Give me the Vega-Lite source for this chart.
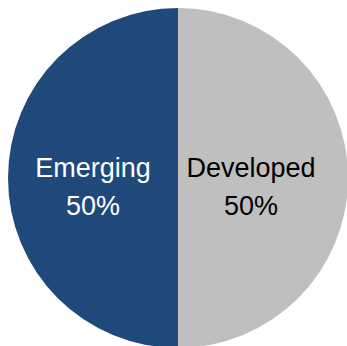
{
  "$schema": "https://vega.github.io/schema/vega-lite/v6.json",
  "width": 356,
  "height": 356,
  "padding": 0,
  "autosize": {"type": "none"},
  "background": "white",
  "config": {"view": {"stroke": null}},
  "data": {
    "values": [
      {"region": "Developed", "share": 50, "label": ["Developed", "50%"]},
      {"region": "Emerging", "share": 50, "label": ["Emerging", "50%"]}
    ]
  },
  "encoding": {
    "theta": {"field": "share", "type": "quantitative", "stack": true},
    "order": {"field": "region", "type": "nominal", "sort": "ascending"}
  },
  "layer": [
    {
      "mark": {"type": "arc", "outerRadius": 170, "stroke": null},
      "encoding": {
        "color": {
          "field": "region",
          "type": "nominal",
          "scale": {"domain": ["Developed", "Emerging"], "range": ["#BFBFBF", "#1F497B"]},
          "legend": null
        }
      }
    },
    {
      "mark": {
        "type": "text",
        "radius": 79,
        "font": "Liberation Sans",
        "fontSize": 27,
        "lineHeight": 38,
        "align": "center",
        "baseline": "alphabetic",
        "dx": -6,
        "dy": -1.5
      },
      "encoding": {
        "text": {"field": "label"},
        "color": {
          "condition": {"test": "datum.region === 'Emerging'", "value": "white"},
          "value": "black"
        }
      }
    }
  ]
}
